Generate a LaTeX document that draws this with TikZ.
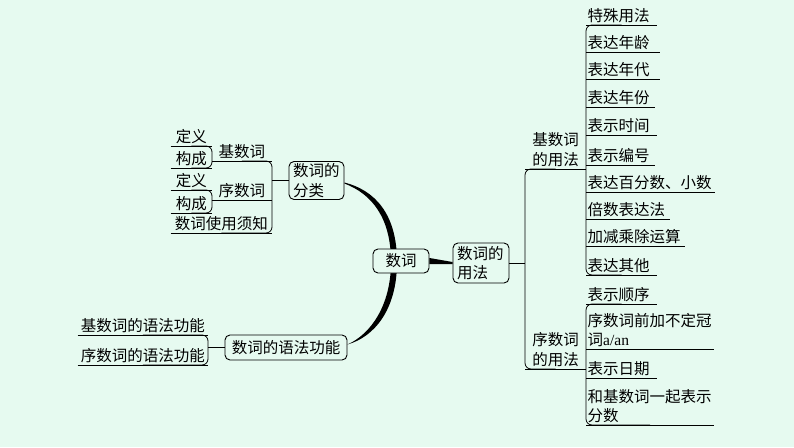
\documentclass[tikz,border=0pt]{standalone}
\usepackage{fontspec}
\newfontfamily\cjk{Noto Sans CJK SC}
\newfontfamily\latinserif{Liberation Serif}
\definecolor{mint}{RGB}{230,250,240}
\pgfdeclarelayer{back}
\pgfsetlayers{back,main}
\tikzset{
  topic/.style={draw, line width=0.9pt, rounded corners=5pt, fill=mint, inner xsep=4pt, inner ysep=2pt},
  rkid/.style={anchor=south west, inner xsep=1.5pt, inner ysep=2pt, align=left, text width=#1pt},
  lkid/.style={anchor=south east, inner xsep=1.5pt, inner ysep=2pt, align=center, text width=#1pt},
  link/.style={line width=0.8pt, rounded corners=6pt},
}

\begin{document}
\begin{tikzpicture}[x=1pt, y=-1pt, every node/.style={font=\cjk\fontsize{15.5}{19.5}\selectfont}]
    \useasboundingbox (0,0) rectangle (794,447);
    % --- 中心与三个分支主题 ---
    \node[topic, minimum width=56pt, minimum height=24pt] (sc) at (401,261) {数词};
    \node[topic, text width=47pt, align=left, minimum height=38pt] (fl) at (316.5,180.5) {数词的\\分类};
    \node[topic, text width=48pt, align=left, minimum height=40pt] (yf) at (481,263) {数词的\\用法};
    \node[topic, minimum width=122pt, minimum height=25pt] (yg) at (286,347.5) {数词的语法功能};

    % --- 左上：数词的分类 ---
    \node[lkid=57] (bs) at (272,161) {基数词};
    \node[lkid=38] (d1) at (212,146) {定义};
    \node[lkid=38] (g1) at (212,168) {构成};
    \node[lkid=57] (xs) at (272,200) {序数词};
    \node[lkid=38] (d2) at (212,190) {定义};
    \node[lkid=38] (g2) at (212,213) {构成};
    \node[lkid=98] (zh) at (272,233) {数词使用须知};

    % --- 左下：数词的语法功能 ---
    \node[lkid=127] (jg) at (208,335) {基数词的语法功能};
    \node[lkid=127] (xg) at (208,365) {序数词的语法功能};

    % --- 右侧：数词的用法 ---
    \node[rkid=58, align=center] (jy) at (525,169) {基数词\\的用法};
    \node[rkid=58, align=center] (xy) at (525,369) {序数词\\的用法};
    % 基数词的用法
    \node[rkid=68] (a1) at (586,25) {特殊用法};
    \node[rkid=71] (a2) at (586,52) {表达年龄};
    \node[rkid=71] (a3) at (586,79) {表达年代};
    \node[rkid=66] (a4) at (586,107) {表达年份};
    \node[rkid=68] (a5) at (586,135) {表示时间};
    \node[rkid=66] (a6) at (586,165) {表示编号};
    \node[rkid=126] (a7) at (586,192) {表达百分数、小数};
    \node[rkid=81] (a8) at (586,219) {倍数表达法};
    \node[rkid=96] (a9) at (586,246) {加减乘除运算};
    \node[rkid=68] (a10) at (586,275) {表达其他};
    % 序数词的用法
    \node[rkid=68] (b1) at (586,304) {表示顺序};
    \node[rkid=125] (b2) at (586,349) {序数词前加不定冠\\词{\latinserif a/an}};
    \node[rkid=68] (b3) at (586,378) {表示日期};
    \node[rkid=125] (b4) at (586,425) {和基数词一起表示\\分数};

    % --- 下划线 ---
    \foreach \n in {bs,d1,g1,xs,d2,g2,zh,jg,xg,jy,xy,a1,a2,a3,a4,a5,a6,a7,a8,a9,a10,b1,b2,b3,b4}
        \draw[link] (\n.south west) -- (\n.south east);

    % --- 括号连线 ---
    \draw[link] (d1.south) -| (g1.south east) -- (g1.south);
    \draw[link] (d2.south) -| (g2.south east) -- (g2.south);
    \draw[link] (bs.south) -| (zh.south east) -- (zh.south);
    \draw[link] (jg.south) -| (xg.south east) -- (xg.south);
    \draw[link] (jy.south) -| (xy.south west) -- (xy.south);
    \draw[link] (a1.south) -| (a10.south west) -- (a10.south);
    \draw[link] (b1.south) -| (b4.south west) -- (b4.south);

    % 主题到括号
    \draw[link] (fl.west) -- (fl.west -| bs.south east);
    \draw[link] (yg.west) -- (yg.west -| jg.south east);
    \draw[link] (yf.east) -- (yf.east -| jy.south west);

    % 数词 -> 数词的用法 (楔形)
    \fill ([yshift=3pt]sc.east) -- ([yshift=1pt]yf.west) -- ([yshift=-1pt]yf.west) -- ([yshift=-3pt]sc.east) -- cycle;

    % --- 背景与弧形主干 ---
    \begin{pgfonlayer}{back}
        \fill[mint] (0,0) rectangle (794,447);
        \fill ([yshift=-2pt]fl.east) .. controls (374,190) and (397,213) .. (397,262)
            .. controls (397,310) and (374,337) .. ([yshift=3pt]yg.east)
            .. controls (371,334) and (391,305) .. (391,262)
            .. controls (391,218) and (372,194) .. ([yshift=-3pt]fl.east) -- cycle;
    \end{pgfonlayer}
\end{tikzpicture}
\end{document}
